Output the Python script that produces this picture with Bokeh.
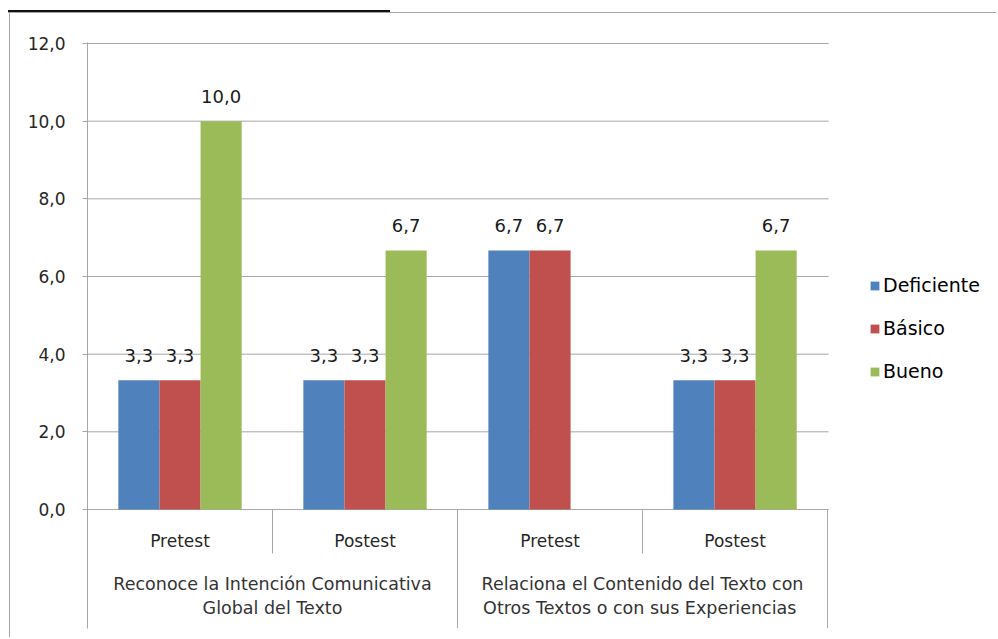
from bokeh.plotting import figure
from bokeh.models import Range1d, FixedTicker, ColumnDataSource, Legend, LegendItem
from bokeh.core.properties import value
from bokeh.embed import file_html
from bokeh.resources import INLINE

# ---- data ----
phases = ["Pretest", "Postest", "Pretest", "Postest"]
group_lines = [
    ["Reconoce la Intención Comunicativa", "Global del Texto"],
    ["Relaciona el Contenido del Texto con", "Otros Textos o  con sus Experiencias"],
]
series = ["Deficiente", "Básico", "Bueno"]
deficiente = [3.33, 3.33, 6.67, 3.33]
basico = [3.33, 3.33, 6.67, 3.33]
bueno = [10.0, 6.67, 0.0, 6.67]
colors = ["#4F81BD", "#C0504D", "#9BBB59"]
y_ticks = [0, 2, 4, 6, 8, 10, 12]

GRID = "#a6a6a6"
FONT = "DejaVu Sans"
X_END = 4.0054  # right edge of the plotting area (category units)

p = figure(
    width=996, height=637,
    x_range=Range1d(0, 4.870), y_range=Range1d(-3.065, 12.026),
    output_backend="svg", toolbar_location=None, tools="",
    x_axis_location=None,
    min_border_left=87, min_border_top=42, min_border_right=8, min_border_bottom=9,
)
p.outline_line_color = None
p.border_fill_color = None
p.background_fill_color = None
p.styles = {
    "background": (
        "linear-gradient(#111,#111) 8px 10px / 382px 2px no-repeat, "
        "linear-gradient(#a6a6a6,#a6a6a6) 8px 12px / 100% 1px no-repeat, "
        "linear-gradient(#a6a6a6,#a6a6a6) 9px 11px / 1px 100% no-repeat"
    )
}

# y axis
p.yaxis.ticker = FixedTicker(ticks=y_ticks)
p.yaxis.major_label_overrides = {t: f"{t:.1f}".replace(".", ",") for t in y_ticks}
p.yaxis.major_label_text_font = FONT
p.yaxis.major_label_text_font_size = "17px"
p.yaxis.major_label_text_color = "#262626"
p.yaxis.major_tick_out = 5
p.yaxis.major_tick_in = 0
p.yaxis.minor_tick_line_color = None
p.yaxis.axis_line_color = GRID
p.yaxis.major_tick_line_color = GRID
p.yaxis.major_label_standoff = 17
p.ygrid.grid_line_color = None
p.xgrid.grid_line_color = None

# horizontal gridlines limited to the plotting area
p.segment(x0=[0] * len(y_ticks), y0=y_ticks, x1=[X_END] * len(y_ticks), y1=y_ticks,
          line_color=GRID, line_width=1)

# bars
n = len(phases)
centers = [i + 0.5 for i in range(n)]
bw = 0.2222
offsets = [-bw, 0.0, bw]
all_vals = [deficiente, basico, bueno]
renderers = []
lx, ly, lt = [], [], []
for s, vals, col, off in zip(series, all_vals, colors, offsets):
    xs = [c + off for c in centers]
    src = ColumnDataSource(dict(x=xs, top=vals))
    r = p.vbar(x="x", top="top", width=bw, bottom=0, source=src,
               fill_color=col, line_color=None)
    renderers.append((s, r))
    for x, v in zip(xs, vals):
        if v > 0:
            lx.append(x); ly.append(v); lt.append(f"{v:.1f}".replace(".", ","))

p.text(x=lx, y=ly, text=lt, text_align="center", text_baseline="middle",
       y_offset=-25, text_font=value(FONT), text_font_size="18px", text_color="#1a1a1a")

# category axis (manual, inside the frame below zero)
p.segment(x0=[1, 3], y0=[0, 0], x1=[1, 3], y1=[-1.133, -1.133], line_color=GRID, line_width=1)
p.segment(x0=[2, 4], y0=[0, 0], x1=[2, 4], y1=[-3.065, -3.065], line_color=GRID, line_width=1)
p.text(x=centers, y=[0] * n, text=phases, text_align="center", text_baseline="middle",
       y_offset=32, text_font=value(FONT), text_font_size="17px", text_color="#262626")
gx = [1.0, 3.0]
p.text(x=gx, y=[0, 0], text=[g[0] for g in group_lines], text_align="center",
       text_baseline="middle", y_offset=75, text_font=value(FONT),
       text_font_size="17.5px", text_color="#333333")
p.text(x=gx, y=[0, 0], text=[g[1] for g in group_lines], text_align="center",
       text_baseline="middle", y_offset=99, text_font=value(FONT),
       text_font_size="17.5px", text_color="#333333")

legend = Legend(
    items=[LegendItem(label=s, renderers=[r]) for s, r in renderers],
    location=(782, 246),
    glyph_width=11, glyph_height=11, label_height=22, spacing=21,
    padding=0, margin=0, label_standoff=3,
    label_text_font=FONT, label_text_font_size="19px", label_text_color="#000000",
    border_line_color=None, background_fill_alpha=0,
)
p.add_layout(legend)

open("out.html", "w").write(file_html(p, INLINE))
